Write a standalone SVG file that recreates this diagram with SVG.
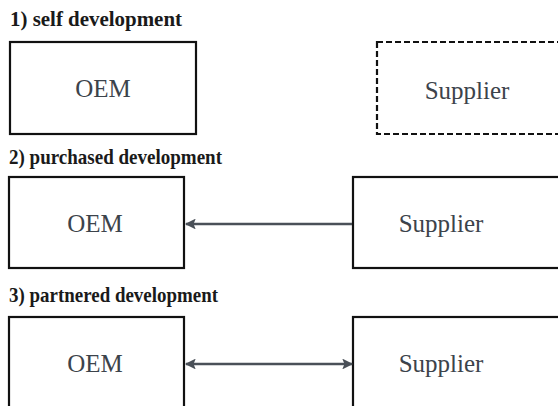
<svg xmlns="http://www.w3.org/2000/svg" width="558" height="406" viewBox="0 0 558 406">
  <defs>
    <style>
      .box { fill: #ffffff; stroke: #111111; stroke-width: 2.2; }
      .dashed { stroke-dasharray: 6 3; }
      .name { font-family: "Liberation Serif", "Times New Roman", serif; font-size: 25px; fill: #3c434b; text-anchor: middle; }
      .head { font-family: "Liberation Serif", "Times New Roman", serif; font-size: 21px; font-weight: bold; fill: #1a1a1a; }
      .link { stroke: #4a5058; stroke-width: 2.4; fill: none; }
    </style>
    <marker id="arrow" viewBox="0 0 10 10" refX="9" refY="5" markerWidth="5" markerHeight="4.5" orient="auto-start-reverse" markerUnits="strokeWidth">
      <path d="M0,0 L10,5 L0,10 L2,5 z" fill="#4a5058"/>
    </marker>
  </defs>
  <rect width="558" height="406" fill="#ffffff"/>

  <!-- section headings -->
  <text class="head" x="10" y="26" textLength="172" lengthAdjust="spacingAndGlyphs">1) self development</text>
  <text class="head" x="9" y="164" textLength="213" lengthAdjust="spacingAndGlyphs">2) purchased development</text>
  <text class="head" x="9" y="302" textLength="209" lengthAdjust="spacingAndGlyphs">3) partnered development</text>

  <!-- 1) self development -->
  <g id="oem1">
    <rect class="box" x="10" y="42" width="186" height="92"/>
    <text class="name" x="103" y="97">OEM</text>
  </g>
  <g id="supplier1">
    <rect class="box dashed" x="377" y="42" width="190" height="92"/>
    <text class="name" x="467" y="99">Supplier</text>
  </g>

  <!-- 2) purchased development -->
  <g id="oem2">
    <rect class="box" x="9" y="177" width="175" height="91"/>
    <text class="name" x="95" y="232">OEM</text>
  </g>
  <g id="supplier2">
    <rect class="box" x="353" y="177" width="214" height="91"/>
    <text class="name" x="441" y="232">Supplier</text>
  </g>

  <!-- 3) partnered development -->
  <g id="oem3">
    <rect class="box" x="9" y="317" width="175" height="100"/>
    <text class="name" x="95" y="372">OEM</text>
  </g>
  <g id="supplier3">
    <rect class="box" x="353" y="317" width="214" height="100"/>
    <text class="name" x="441" y="372">Supplier</text>
  </g>

  <!-- connectors -->
  <g id="connectors">
    <line class="link" x1="352" y1="224" x2="186" y2="224" marker-end="url(#arrow)"/>
    <line class="link" x1="186" y1="364" x2="352" y2="364" marker-start="url(#arrow)" marker-end="url(#arrow)"/>
  </g>
</svg>
